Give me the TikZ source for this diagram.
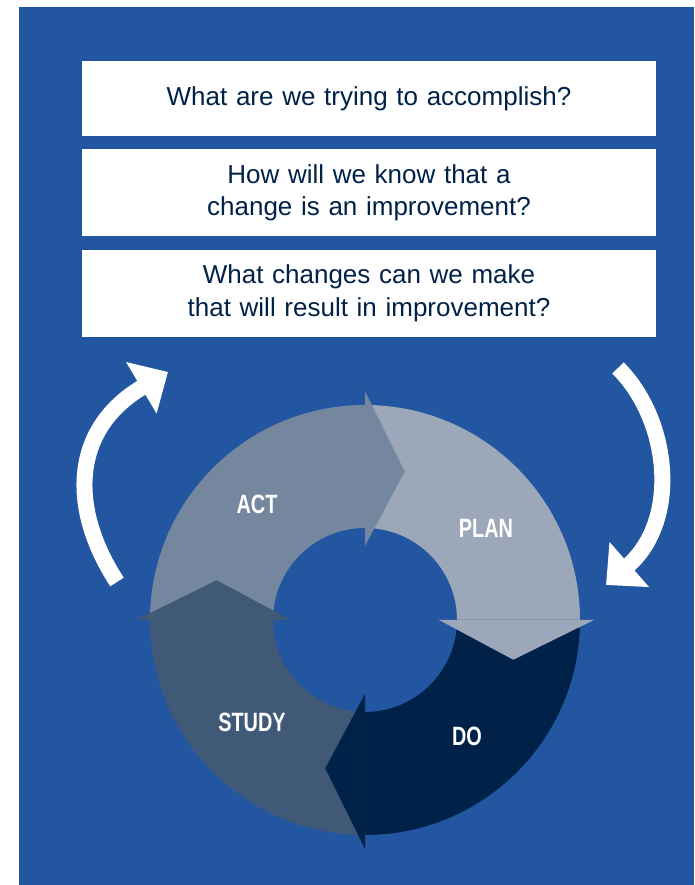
\documentclass[tikz,border=0pt]{standalone}
\usepackage{fontspec}
\setmainfont{Liberation Sans}
\newfontfamily\phasefont[FakeStretch=0.75]{Liberation Sans Bold}
\usepackage{tikz}
\usetikzlibrary{arrows.meta,positioning}
\definecolor{pdsbg}{RGB}{35,86,160}
\definecolor{pdsnavy}{RGB}{0,33,72}
\definecolor{pdsact}{RGB}{117,135,158}
\definecolor{pdsplan}{RGB}{156,167,185}
\definecolor{pdsstudy}{RGB}{64,89,119}
\definecolor{pdsdo}{RGB}{0,33,72}
\tikzstyle{question} = [rectangle, fill=white, minimum width=574pt, text width=540pt, align=center, text=pdsnavy, font=\fontsize{26}{32.5}\selectfont, inner sep=0pt]
\tikzstyle{phase} = [text=white, font=\phasefont\fontsize{26.5}{30}\selectfont]
\tikzstyle{cyclearrow} = [line width=16pt, draw=white, -{Triangle[width=58pt,length=31pt]}]

\begin{document}
\begin{tikzpicture}[x=1pt,y=1pt]
% Background
\useasboundingbox (0,0) rectangle (694,885);
\fill[pdsbg] (19,0) rectangle (694,878);

% Question boxes
\node (aim) [question, minimum height=75pt] at (369,786.5) {What are we trying to accomplish?};
\node (measure) [question, minimum height=87pt, below=13pt of aim] {How will we know that a\\change is an improvement?};
\node (change) [question, minimum height=87pt, below=13pt of measure] {What changes can we make\\that will result in improvement?};

% Ring segments, then heads on top
\begin{scope}[shift={(365,265)}]
\fill[pdsact] (180:215) arc[start angle=180, end angle=90, radius=215] -- (90:92) arc[start angle=90, end angle=180, radius=92] -- cycle;
\fill[pdsplan] (90:215) arc[start angle=90, end angle=0, radius=215] -- (0:92) arc[start angle=0, end angle=90, radius=92] -- cycle;
\fill[pdsdo] (0:215) arc[start angle=0, end angle=-90, radius=215] -- (-90:92) arc[start angle=-90, end angle=0, radius=92] -- cycle;
\fill[pdsstudy] (-90:215) arc[start angle=-90, end angle=-180, radius=215] -- (-180:92) arc[start angle=-180, end angle=-90, radius=92] -- cycle;
\fill[pdsact] (90:74) -- (90:229) -- (75:153.5) -- cycle;
\fill[pdsplan] (0:74) -- (0:229) -- (-15:153.5) -- cycle;
\fill[pdsdo] (-90:74) -- (-90:229) -- (-105:153.5) -- cycle;
\fill[pdsstudy] (180:74) -- (180:229) -- (165:153.5) -- cycle;
\end{scope}

% Phase labels
\node (act) [phase] at (257,381) {ACT};
\node (plan) [phase] at (486,357) {PLAN};
\node (study) [phase] at (252,163) {STUDY};
\node (do) [phase] at (467,149) {DO};

% Outer arrows
\coordinate (leftstart) at (117,303);
\coordinate (lefttip) at (168,513);
\coordinate (rightstart) at (618,517);
\coordinate (righttip) at (606,300);
\draw[cyclearrow] (leftstart) .. controls (70,375) and (70,455) .. (lefttip);
\draw[cyclearrow] (rightstart) .. controls (670,465) and (680,365) .. (righttip);
\end{tikzpicture}
\end{document}
